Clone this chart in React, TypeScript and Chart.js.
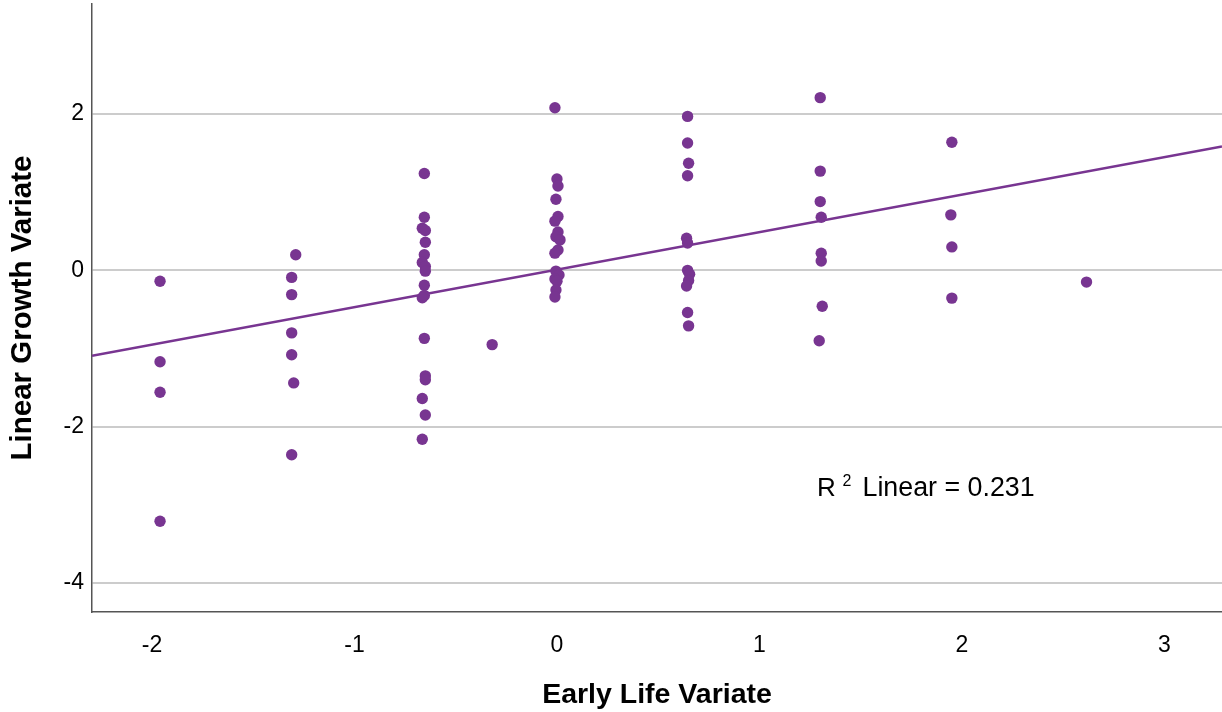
import React, { useEffect, useRef } from "react";
import { Chart, registerables } from "chart.js";

Chart.register(...registerables);

// Early Life Variate (x) and Linear Growth Variate (y)
const earlyLife = [
  -1.96, -1.96, -1.96, -1.96,
  -1.29, -1.31, -1.31, -1.31, -1.31, -1.30, -1.31,
  -0.655, -0.655, -0.665, -0.65, -0.65, -0.655, -0.665, -0.65, -0.65, -0.655, -0.655, -0.665, -0.655, -0.65, -0.65, -0.665, -0.65, -0.665,
  -0.32,
  -0.01, 0.0, 0.005, -0.005, 0.005, -0.01, 0.005, -0.005, 0.015, 0.005, -0.01, -0.005, 0.01, -0.01, 0.0, -0.005, -0.01,
  0.645, 0.645, 0.65, 0.645, 0.64, 0.645, 0.645, 0.655, 0.65, 0.64, 0.645, 0.65,
  1.30, 1.30, 1.30, 1.305, 1.305, 1.305, 1.31, 1.295,
  1.95, 1.945, 1.95, 1.95,
  2.615,
];

const linearGrowth = [
  -0.14, -1.17, -1.56, -3.21,
  0.2, -0.09, -0.31, -0.8, -1.08, -1.44, -2.36,
  1.24, 0.68, 0.54, 0.51, 0.36, 0.2, 0.1, 0.05, -0.01, -0.19, -0.32, -0.35, -0.87, -1.35, -1.4, -1.64, -1.85, -2.16,
  -0.95,
  2.08, 1.17, 1.08, 0.91, 0.69, 0.63, 0.49, 0.43, 0.39, 0.26, 0.22, -0.01, -0.06, -0.11, -0.14, -0.25, -0.34,
  1.97, 1.63, 1.37, 1.21, 0.41, 0.35, 0.0, -0.05, -0.13, -0.2, -0.54, -0.71,
  2.21, 1.27, 0.88, 0.68, 0.22, 0.12, -0.46, -0.9,
  1.64, 0.71, 0.3, -0.355,
  -0.15,
];

const xTickValues = [-2, -1, 0, 1, 2, 3];
const yTickValues = [-4, -2, 0, 2];
const xBounds = [-2.296, 3.284];
const yBounds = [-4.371, 3.408];
const fitSlope = 0.48;
const fitIntercept = 0.01;
const rSquaredText = "0.231";

const xTitle = "Early Life Variate";
const yTitle = "Linear Growth Variate";

const PURPLE = "#783591";
const FONT = '"Liberation Sans", Arial, sans-serif';

const r2Plugin = {
  id: "r2label",
  afterDraw(chart: any) {
    const ctx = chart.ctx;
    ctx.save();
    ctx.fillStyle = "#000";
    ctx.textBaseline = "alphabetic";
    ctx.textAlign = "left";
    ctx.font = `26px ${FONT}`;
    ctx.fillText("R", 817, 496);
    ctx.font = `16px ${FONT}`;
    ctx.fillText("2", 842.5, 486);
    ctx.font = `26.8px ${FONT}`;
    ctx.fillText("Linear = " + rSquaredText, 862.5, 496);
    ctx.restore();
  },
};

export default function App() {
  const canvasRef = useRef<HTMLCanvasElement | null>(null);

  useEffect(() => {
    if (!canvasRef.current) return;
    const points = earlyLife.map((x, i) => ({ x, y: linearGrowth[i] }));
    const fitLine = xBounds.map((x) => ({ x, y: fitSlope * x + fitIntercept }));

    const chart = new Chart(canvasRef.current, {
      type: "scatter",
      data: {
        datasets: [
          {
            type: "scatter",
            label: "data",
            data: points,
            backgroundColor: PURPLE,
            borderWidth: 0,
            pointRadius: 5.7,
            pointHoverRadius: 5.7,
          } as any,
          {
            type: "line",
            label: "fit",
            data: fitLine,
            borderColor: PURPLE,
            borderWidth: 2.5,
            pointRadius: 0,
            showLine: true,
            fill: false,
          } as any,
        ],
      },
      options: {
        responsive: false,
        animation: false,
        devicePixelRatio: 1,
        layout: { autoPadding: false, padding: { top: 4, right: 0, left: 0, bottom: 0 } },
        plugins: {
          legend: { display: false },
          tooltip: { enabled: false },
        },
        scales: {
          x: {
            type: "linear",
            min: xBounds[0],
            max: xBounds[1],
            afterBuildTicks: (scale: any) => {
              scale.ticks = xTickValues.map((v) => ({ value: v }));
            },
            afterFit: (scale: any) => {
              scale.height = 100;
              scale.paddingLeft = 0;
              scale.paddingRight = 0;
              scale.paddingTop = 0;
              scale.paddingBottom = 0;
            },
            grid: { display: false, drawTicks: false },
            border: { display: true, color: "#555", width: 1.5 },
            ticks: {
              color: "#000",
              font: { family: FONT, size: 23 },
              padding: 20,
              maxRotation: 0,
              autoSkip: false,
              callback: (v: any) => String(v),
            },
            title: {
              display: true,
              text: xTitle,
              color: "#000",
              font: { family: FONT, size: 28.5, weight: "bold" },
              padding: { top: 0, bottom: 0 },
            },
          },
          y: {
            type: "linear",
            min: yBounds[0],
            max: yBounds[1],
            afterBuildTicks: (scale: any) => {
              scale.ticks = yTickValues.map((v) => ({ value: v }));
            },
            afterFit: (scale: any) => {
              scale.width = 92;
              scale.paddingLeft = 0;
              scale.paddingRight = 0;
              scale.paddingTop = 0;
              scale.paddingBottom = 0;
            },
            grid: { display: true, drawTicks: false, color: "#cccccc", lineWidth: 2 },
            border: { display: true, color: "#555", width: 1.5 },
            ticks: {
              color: "#000",
              font: { family: FONT, size: 23 },
              padding: 8,
              autoSkip: false,
              callback: (v: any) => String(v),
            },
            title: {
              display: true,
              text: yTitle,
              color: "#000",
              font: { family: FONT, size: 29.5, weight: "bold" },
              padding: { top: 5, bottom: 0 },
            },
          },
        },
      },
      plugins: [r2Plugin],
    });

    return () => chart.destroy();
  }, []);

  return (
    <div style={{ position: "absolute", left: 0, top: 0, width: 1222, height: 712 }}>
      <canvas ref={canvasRef} width={1222} height={712} style={{ display: "block" }} />
    </div>
  );
}
